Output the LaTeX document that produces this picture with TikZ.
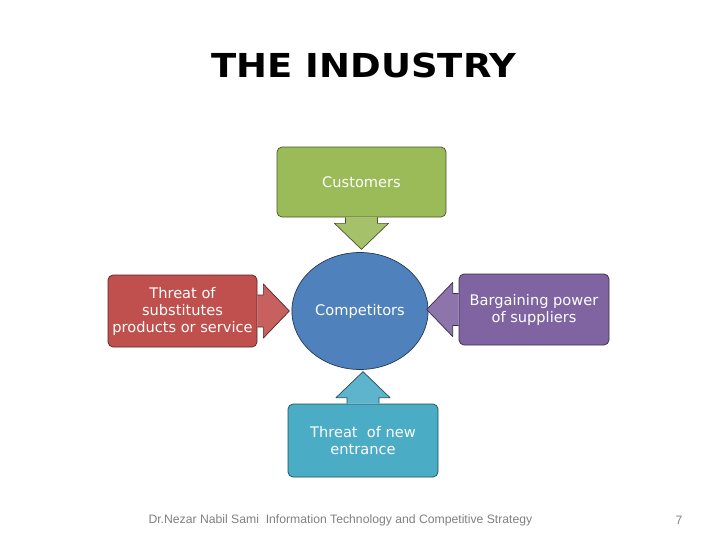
\documentclass[tikz,border=0pt]{standalone}
\usepackage{fontspec}
\setmainfont{DejaVu Sans}
\newfontfamily\footfont{Liberation Sans}
\usepackage{tikz}
\usetikzlibrary{shapes.geometric}

\definecolor{custgreen}{HTML}{9BBB59}
\definecolor{subsred}{HTML}{C0504D}
\definecolor{supppurple}{HTML}{8064A2}
\definecolor{entrteal}{HTML}{4BACC6}
\definecolor{compblue}{HTML}{4F81BD}

\begin{document}
\begin{tikzpicture}[x=1pt, y=-1pt,
    box/.style={fill=#1, draw=#1!45!black, line width=.7pt, rounded corners=5pt,
      text=white, align=center, font=\fontsize{14.6}{17}\selectfont, inner sep=0pt},
    fatarrow/.style={fill=#1!90!white, draw=#1!45!black, line width=.7pt, line join=round}]
  \useasboundingbox (0,0) rectangle (728,546);
  \node[font=\bfseries\fontsize{33}{40}\selectfont, xscale=1.12] (title) at (364,65) {THE INDUSTRY};
  % the four forces
  \node[box=custgreen, minimum width=169pt, minimum height=70pt] (cust) at (361.5,182) {Customers};
  \node[box=subsred, minimum width=149pt, minimum height=72pt] (subs) at (182.5,311) {Threat of\\substitutes\\products or service};
  \node[box=supppurple, minimum width=150pt, minimum height=71pt] (supp) at (534,309.5) {Bargaining power\\of suppliers};
  \node[box=entrteal, minimum width=150pt, minimum height=73pt] (entr) at (363,440.5) {Threat\ \ of new\\entrance};
  \node[ellipse, fill=compblue, draw=compblue!45!black, line width=.7pt, text=white,
    font=\fontsize{14.6}{17}\selectfont, minimum width=133pt, minimum height=117pt] (comp) at (360,311) {Competitors};
  % block arrows into the middle
  \draw[fatarrow=custgreen, shift={(cust.south)}] (-16,0) -- (-16,6) -- (-27,6) -- (0,32) -- (27,6) -- (16,6) -- (16,0);
  \draw[fatarrow=subsred, shift={(subs.east)}, rotate=90] (-16,0) -- (-16,6) -- (-27,6) -- (0,32) -- (27,6) -- (16,6) -- (16,0);
  \draw[fatarrow=supppurple, shift={(supp.west)}, rotate=-90] (-16,0) -- (-16,6) -- (-27,6) -- (0,32) -- (27,6) -- (16,6) -- (16,0);
  \draw[fatarrow=entrteal, shift={(entr.north)}, rotate=180] (-16,0) -- (-16,6) -- (-27,6) -- (0,32) -- (27,6) -- (16,6) -- (16,0);
  % footer
  \node[font=\footfont\fontsize{12.2}{14}\selectfont, text=gray, anchor=west] (auth) at (145,520) {Dr.Nezar Nabil Sami\ \ Information Technology and Competitive Strategy};
  \node[font=\footfont\fontsize{12.2}{14}\selectfont, text=gray, anchor=east] (page) at (686,520) {7};
\end{tikzpicture}
\end{document}
